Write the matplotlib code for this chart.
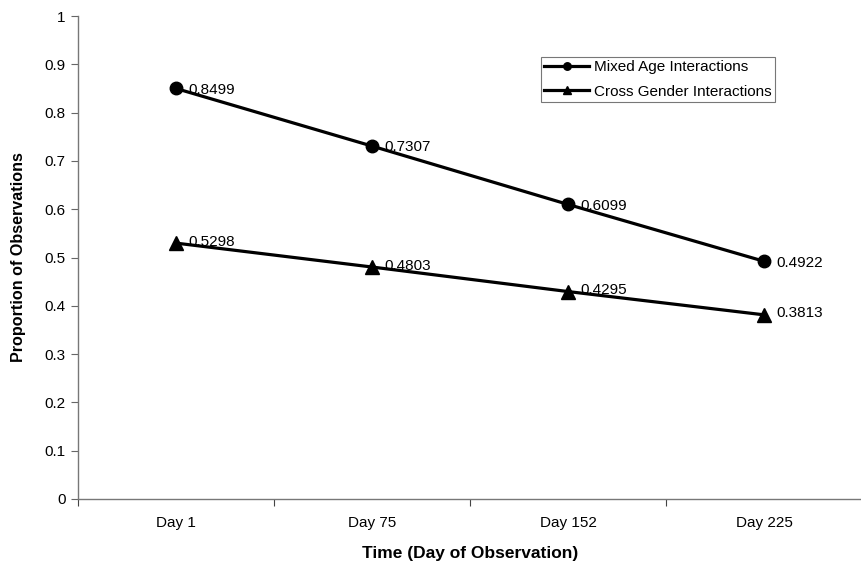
import matplotlib
matplotlib.use("Agg")
import matplotlib.pyplot as plt

categories = ["Day 1", "Day 75", "Day 152", "Day 225"]
mixed_age = [0.8499, 0.7307, 0.6099, 0.4922]
cross_gender = [0.5298, 0.4803, 0.4295, 0.3813]
yticks = [0, 0.1, 0.2, 0.3, 0.4, 0.5, 0.6, 0.7, 0.8, 0.9, 1]

plt.rcParams['font.family'] = ['Liberation Sans', 'DejaVu Sans']

fig = plt.figure(figsize=(8.62, 5.67), dpi=100)
ax = fig.add_axes([78/862, 1-499/567, 1-78/862, (499-16)/567])

x = list(range(len(categories)))
ax.plot(x, mixed_age, color='black', lw=2.3, marker='o', ms=9,
        label='Mixed Age Interactions')
ax.plot(x, cross_gender, color='black', lw=2.3, marker='^', ms=10,
        label='Cross Gender Interactions')

for xi, v in zip(x, mixed_age):
    ax.annotate(f"{v:.4f}", (xi, v), xytext=(9, -1), textcoords='offset points',
                ha='left', va='center', fontsize=11)
for xi, v in zip(x, cross_gender):
    ax.annotate(f"{v:.4f}", (xi, v), xytext=(9, 1), textcoords='offset points',
                ha='left', va='center', fontsize=11)

ax.set_xlim(-0.5, -0.5 + 784/197)
ax.set_ylim(0, 1)
ax.set_yticks(yticks)
ax.set_yticklabels([f"{t:g}" for t in yticks], fontsize=11)
ax.set_xticks(x)
ax.set_xticklabels(categories, fontsize=11)
ax.tick_params(axis='x', length=0, pad=12)
ax.set_xticks([i + 0.5 for i in range(-1, len(categories))], minor=True)
ax.tick_params(axis='x', which='minor', length=5, width=0.8, color='#444444')
ax.tick_params(axis='y', length=5, width=0.8, color='#666666', pad=4)

for s in ['top', 'right']:
    ax.spines[s].set_visible(False)
for s in ['left', 'bottom']:
    ax.spines[s].set_color('#777777')
    ax.spines[s].set_linewidth(1.0)

ax.set_ylabel("Proportion of Observations", fontsize=11.6, fontweight='bold', labelpad=13)
ax.set_xlabel("Time (Day of Observation)", fontsize=12.5, fontweight='bold', labelpad=12)

leg = ax.legend(loc='upper left', bbox_to_anchor=(541/862, 1-57/567),
                bbox_transform=fig.transFigure, fontsize=11, frameon=True,
                fancybox=False, borderpad=0.2, handlelength=2.95, handletextpad=0.33,
                labelspacing=0.7, borderaxespad=0, markerscale=0.6)
leg.get_frame().set_edgecolor('#555555')
leg.get_frame().set_linewidth(0.8)

fig.savefig("out.png", dpi=100)
